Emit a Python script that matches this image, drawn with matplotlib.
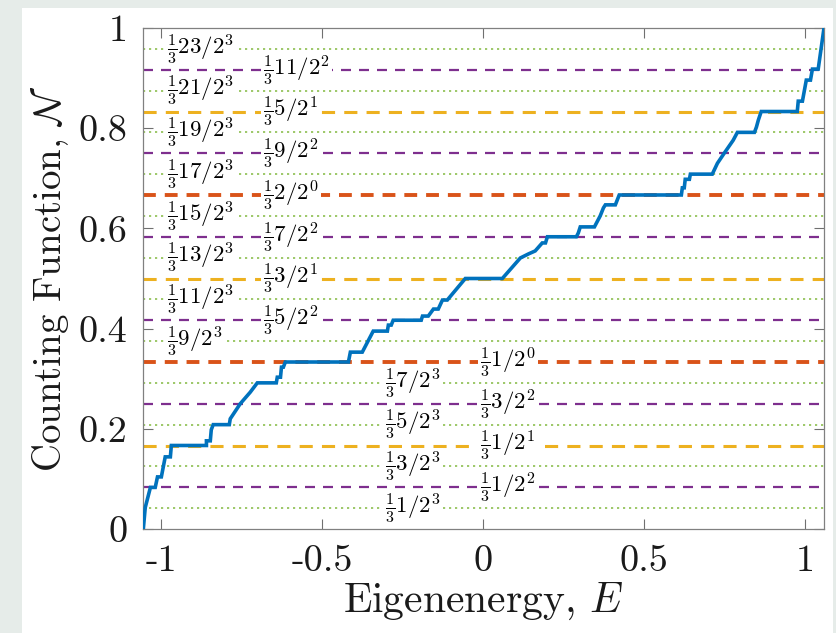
import matplotlib.pyplot as plt
from matplotlib.patches import Rectangle

plt.rcParams['mathtext.fontset'] = 'cm'
plt.rcParams['axes.unicode_minus'] = False

# counting function, vertices
energy = [
    -1.056, -1.050, -1.034, -1.019, -1.012, -1.000, -0.988, -0.972, -0.969,
    -0.860, -0.860, -0.848, -0.845, -0.839, -0.789, -0.786, -0.755, -0.724,
    -0.702, -0.643, -0.640, -0.630, -0.627, -0.621, -0.615, -0.419, -0.413,
    -0.376, -0.342, -0.298, -0.295, -0.286, -0.280, -0.193, -0.189, -0.171,
    -0.155, -0.140, -0.127, -0.112, -0.056, 0.059, 0.115, 0.140, 0.161,
    0.183, 0.193, 0.199, 0.289, 0.295, 0.301, 0.345, 0.363, 0.373, 0.379,
    0.410, 0.422, 0.615, 0.618, 0.624, 0.627, 0.640, 0.643, 0.711, 0.727,
    0.748, 0.776, 0.789, 0.842, 0.848, 0.854, 0.863, 0.975, 0.978, 0.991,
    1.003, 1.016, 1.022, 1.040, 1.058,
]
counting = [
    0.000, 0.043, 0.083, 0.083, 0.104, 0.104, 0.144, 0.144, 0.1667,
    0.1667, 0.176, 0.176, 0.198, 0.2083, 0.2083, 0.220, 0.250, 0.273,
    0.2917, 0.2917, 0.303, 0.303, 0.323, 0.323, 0.3333, 0.3333, 0.353,
    0.353, 0.395, 0.395, 0.407, 0.407, 0.4167, 0.4167, 0.425, 0.425,
    0.439, 0.439, 0.457, 0.457, 0.500, 0.500, 0.541, 0.549, 0.555,
    0.571, 0.571, 0.5833, 0.5833, 0.591, 0.603, 0.603, 0.625, 0.641, 0.647,
    0.647, 0.6667, 0.6667, 0.681, 0.681, 0.698, 0.698, 0.7083, 0.7083, 0.730,
    0.750, 0.776, 0.7917, 0.7917, 0.802, 0.816, 0.8333, 0.8333, 0.854, 0.854,
    0.896, 0.896, 0.918, 0.918, 1.000,
]

# niveaux k/3 * 1/2^n : numerateurs par exposant
numerators = {
    0: [1, 2],
    1: [1, 3, 5],
    2: [1, 3, 5, 7, 9, 11],
    3: [1, 3, 5, 7, 9, 11, 13, 15, 17, 19, 21, 23],
}

styles = {
    0: dict(color='#D95319', lw=2.8, ls=(0, (3.3, 2.3))),
    1: dict(color='#EDB120', lw=2.2, ls=(0, (4.3, 3.0))),
    2: dict(color='#7E2F8E', lw=1.6, ls=(0, (4.5, 3.6))),
    3: dict(color='#8cbf4f', lw=1.2, ls=(0, (1.3, 2.3))),
}

xticks = [-1, -0.5, 0, 0.5, 1]
xtick_labels = ['-1', '-0.5', '0', '0.5', '1']
yticks = [0, 0.2, 0.4, 0.6, 0.8, 1]
ytick_labels = ['0', '0.2', '0.4', '0.6', '0.8', '1']

fig = plt.figure(figsize=(8.37, 6.33), dpi=100, facecolor='#e6ece9')
fig.patches.append(Rectangle((22 / 837, 0), 811 / 837, 625 / 633,
                             transform=fig.transFigure, fc='white', ec='none', zorder=-5))
ax = fig.add_axes([143 / 837, 1 - 529 / 633, 681 / 837, 501 / 633])

for n, nums in numerators.items():
    for k in nums:
        val = k / 3 / 2 ** n
        ax.axhline(val, zorder=1, **styles[n])
        if n == 3:
            xpos = -0.984 if val > 0.35 else -0.304
        else:
            xpos = -0.683 if val > 0.35 else -0.009
        ax.text(xpos, val, r'$\frac{1}{3}%d/2^{%d}$' % (k, n), fontsize=16.5,
                ha='left', va='center', zorder=2,
                bbox=dict(fc='white', ec='none', pad=1.5))

ax.plot(energy, counting, color='#0072BD', lw=2.6, zorder=3,
        solid_joinstyle='miter')

ax.set_xlim(-1.057, 1.058)
ax.set_ylim(0, 1)
ax.set_xticks(xticks, xtick_labels, fontfamily='cmr10', fontsize=27.5)
ax.set_yticks(yticks, ytick_labels, fontfamily='cmr10', fontsize=27.5)
ax.tick_params(direction='in', length=7, width=0.8, top=True, right=True,
               color='#707070', labelcolor='#1a1a1a', pad=11)
for s in ax.spines.values():
    s.set_color('#808080')
    s.set_linewidth(0.9)

ax.set_xlabel(r'Eigenenergy, $E$', fontfamily='cmr10', fontsize=30,
              color='#1a1a1a', labelpad=2)
ax.set_ylabel(r'Counting Function, $\mathcal{N}$', fontfamily='cmr10',
              fontsize=28, color='#1a1a1a', labelpad=6)

fig.savefig('out.png', dpi=100, facecolor=fig.get_facecolor())
